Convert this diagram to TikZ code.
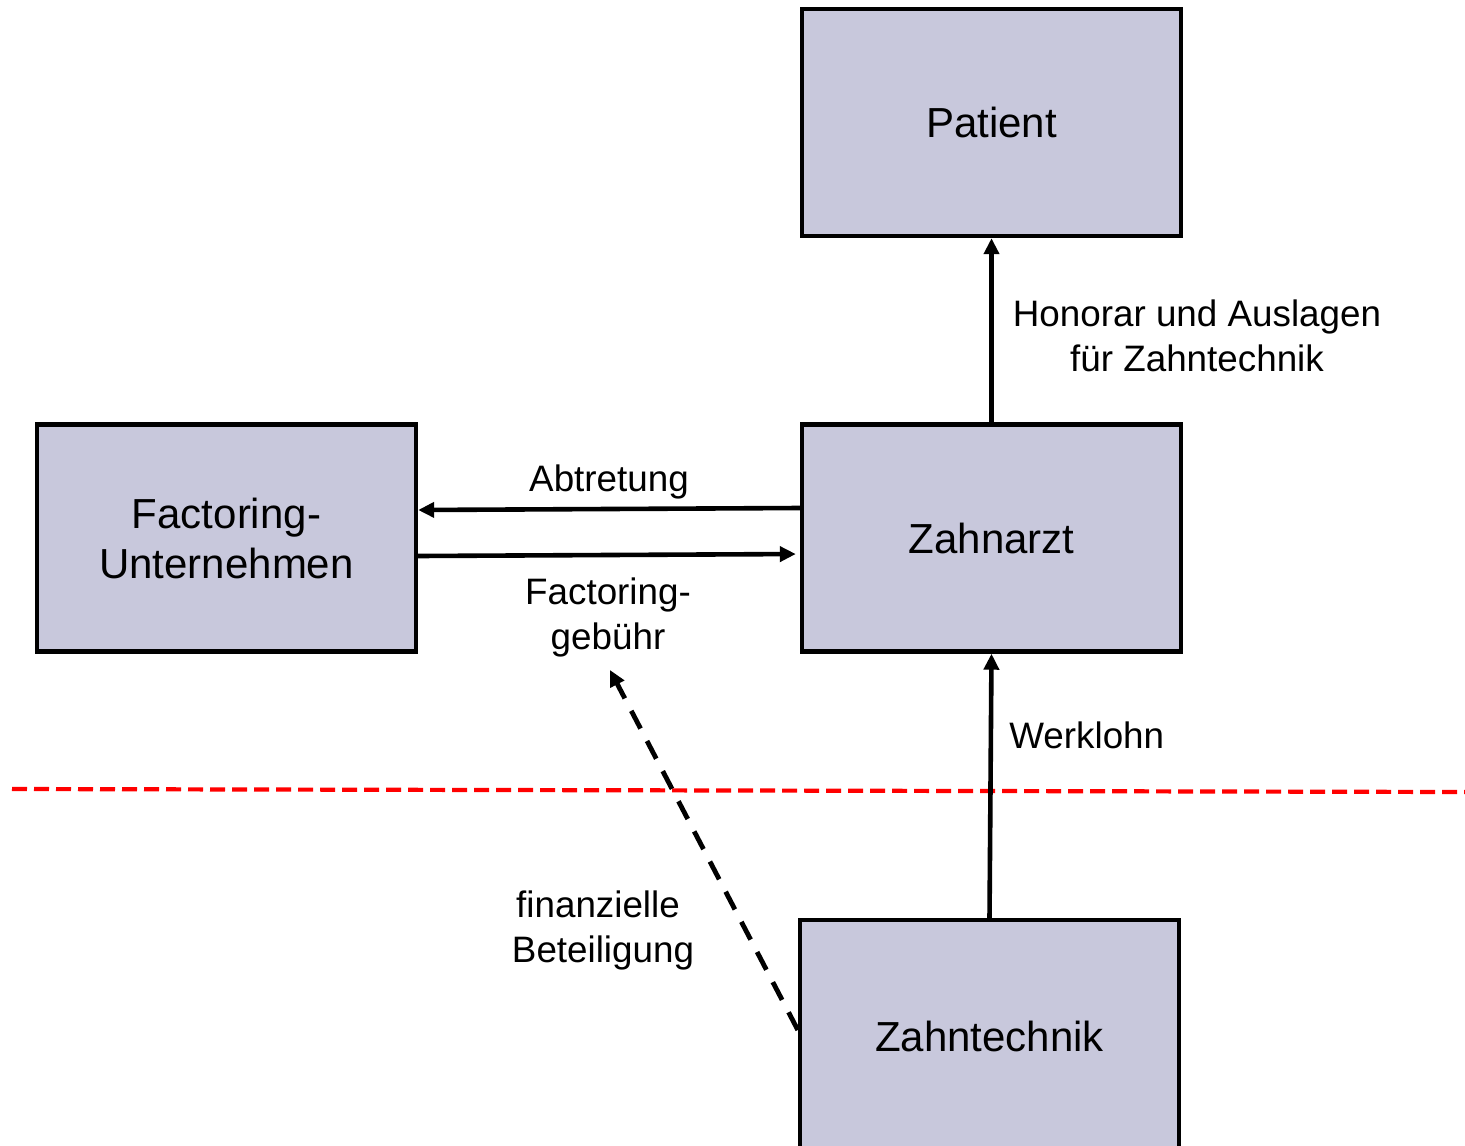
\documentclass[tikz,border=0pt]{standalone}
\usepackage{fontspec}
\setmainfont{Liberation Sans}
\usetikzlibrary{arrows.meta}
\definecolor{boxfill}{RGB}{200,200,220}
\definecolor{redline}{RGB}{255,0,0}
\tikzset{
  entity/.style={draw=black, line width=2.2pt, fill=boxfill, minimum width=189.5pt, minimum height=113.5pt, inner sep=0pt, align=center, font=\fontsize{21}{25}\selectfont},
  flow/.style={line width=2.3pt, -{Triangle[length=8pt,width=7.5pt]}},
  dashflow/.style={line width=2.4pt, dash pattern=on 10pt off 7pt, -{Triangle[length=8pt,width=7.5pt]}},
  lbl/.style={align=center, inner sep=0pt, font=\fontsize{18.4}{22.5}\selectfont},
  sep/.style={redline, line width=2.1pt, dash pattern=on 7.5pt off 3.5pt}
}
\begin{document}
\begin{tikzpicture}[x=0.5pt,y=-0.5pt]
\useasboundingbox (0,0) rectangle (1465,1145);
\node[entity] (patient) at (991.5,122.5) {Patient};
\node[entity] (zahnarzt) at (991.5,538) {Zahnarzt};
\node[entity] (factoring) at (226.5,538) {Factoring-\\Unternehmen};
\node[entity, minimum height=120pt] (zahntechnik) at (989.5,1040) {};
\node[font=\fontsize{21}{25}\selectfont, inner sep=0pt] (zt) at (989.5,1036) {Zahntechnik};

\coordinate (redL) at (12,789);
\coordinate (redR) at (1465,792);
\draw[sep] (redL) -- (redR);

\draw[flow] (zahnarzt.north) -- (patient.south);
\draw[flow] (zahnarzt.west |- 0,508) -- (factoring.east |- 0,510);
\draw[flow, shorten >=2pt] (factoring.east |- 0,556) -- (zahnarzt.west |- 0,554);
\draw[flow] (zahntechnik.north) -- (zahnarzt.south);
\coordinate (dashend) at (610,670);
\draw[dashflow] (zahntechnik.west |- 0,1030) -- (dashend);

\node[lbl] (l1) at (1197,336) {Honorar und Auslagen\\für Zahntechnik};
\node[lbl] (l2) at (609,482) {Abtretung};
\node[lbl] (l3) at (608,617) {Factoring-\\gebühr};
\node[lbl, anchor=west] (l4) at (1009,735) {Werklohn};
\node[lbl] (l5) at (603,930) {finanzielle\hspace*{5pt}\\Beteiligung};
\end{tikzpicture}
\end{document}
